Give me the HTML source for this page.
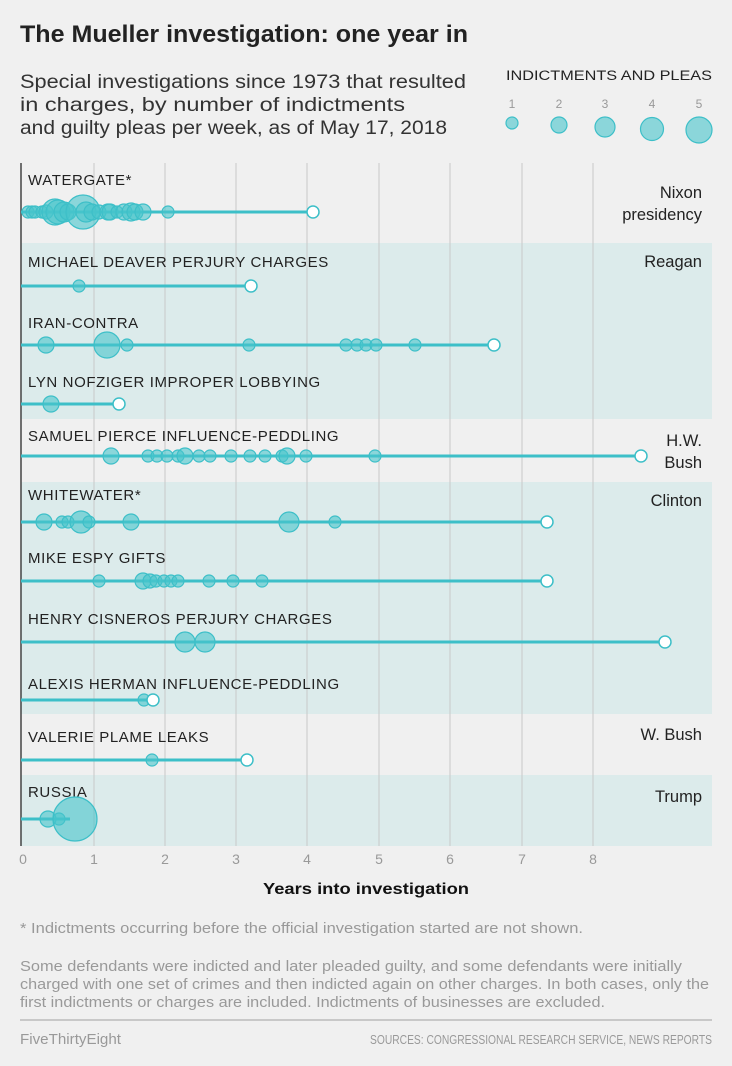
<!DOCTYPE html>
<html><head><meta charset="utf-8"><style>
body{margin:0;background:#f0f0f0;width:732px;height:1061px;overflow:hidden;font-family:"Liberation Sans",sans-serif;}
</style></head><body>
<svg width="732" height="1061" xmlns="http://www.w3.org/2000/svg" font-family="Liberation Sans, sans-serif">
<rect width="732" height="1061" fill="#f0f0f0"/>
<text x="20" y="42" font-size="24" font-weight="bold" fill="#222" textLength="448" lengthAdjust="spacingAndGlyphs">The Mueller investigation: one year in</text>
<text font-size="19" fill="#333"><tspan x="20" y="88" textLength="446" lengthAdjust="spacingAndGlyphs">Special investigations since 1973 that resulted</tspan><tspan x="20" y="111" textLength="385" lengthAdjust="spacingAndGlyphs">in charges, by number of indictments</tspan><tspan x="20" y="134" textLength="427" lengthAdjust="spacingAndGlyphs">and guilty pleas per week, as of May 17, 2018</tspan></text>
<text x="506" y="80" font-size="13.5" fill="#222" textLength="206" lengthAdjust="spacingAndGlyphs">INDICTMENTS AND PLEAS</text>
<g font-size="12" fill="#999" text-anchor="middle"><text x="512" y="108">1</text><text x="559" y="108">2</text><text x="605" y="108">3</text><text x="652" y="108">4</text><text x="699" y="108">5</text></g>
<g fill="rgba(72,196,204,0.6)" stroke="#3dbfc8" stroke-width="1.2">
<circle cx="512" cy="123" r="6"/><circle cx="559" cy="125" r="8"/><circle cx="605" cy="127" r="10"/><circle cx="652" cy="129" r="11.5"/><circle cx="699" cy="130" r="13"/></g>
<g fill="#dcebeb"><rect x="21" y="243" width="691" height="176"/><rect x="21" y="482" width="691" height="232"/><rect x="21" y="775" width="691" height="71"/></g>
<g stroke="#c8c8c8" stroke-width="1">
<line x1="94" y1="163" x2="94" y2="846"/><line x1="165" y1="163" x2="165" y2="846"/><line x1="236" y1="163" x2="236" y2="846"/><line x1="307" y1="163" x2="307" y2="846"/><line x1="379" y1="163" x2="379" y2="846"/><line x1="450" y1="163" x2="450" y2="846"/><line x1="522" y1="163" x2="522" y2="846"/><line x1="593" y1="163" x2="593" y2="846"/></g>
<line x1="21" y1="163" x2="21" y2="846" stroke="#444" stroke-width="1.5"/>
<g font-size="14" fill="#999" text-anchor="middle"><text x="23" y="864">0</text><text x="94" y="864">1</text><text x="165" y="864">2</text><text x="236" y="864">3</text><text x="307" y="864">4</text><text x="379" y="864">5</text><text x="450" y="864">6</text><text x="522" y="864">7</text><text x="593" y="864">8</text></g>
<text x="366" y="894" font-size="16" font-weight="bold" fill="#111" text-anchor="middle" textLength="206" lengthAdjust="spacingAndGlyphs">Years into investigation</text>
<g font-size="15" fill="#222" letter-spacing="0.6">
<text x="28" y="185">WATERGATE*</text><text x="28" y="267">MICHAEL DEAVER PERJURY CHARGES</text><text x="28" y="328">IRAN-CONTRA</text><text x="28" y="387">LYN NOFZIGER IMPROPER LOBBYING</text><text x="28" y="441">SAMUEL PIERCE INFLUENCE-PEDDLING</text><text x="28" y="500">WHITEWATER*</text><text x="28" y="563">MIKE ESPY GIFTS</text><text x="28" y="624">HENRY CISNEROS PERJURY CHARGES</text><text x="28" y="689">ALEXIS HERMAN INFLUENCE-PEDDLING</text><text x="28" y="742">VALERIE PLAME LEAKS</text><text x="28" y="797">RUSSIA</text></g>
<g font-size="16.5" fill="#222" text-anchor="end">
<text x="702" y="198">Nixon</text><text x="702" y="220">presidency</text><text x="702" y="267">Reagan</text><text x="702" y="446">H.W.</text><text x="702" y="468">Bush</text><text x="702" y="506">Clinton</text><text x="702" y="740">W. Bush</text><text x="702" y="802">Trump</text></g>
<g stroke="#3dbfc8" stroke-width="3">
<line x1="21" y1="212" x2="313" y2="212"/><line x1="21" y1="286" x2="251" y2="286"/><line x1="21" y1="345" x2="494" y2="345"/><line x1="21" y1="404" x2="119" y2="404"/><line x1="21" y1="456" x2="641" y2="456"/><line x1="21" y1="522" x2="547" y2="522"/><line x1="21" y1="581" x2="547" y2="581"/><line x1="21" y1="642" x2="665" y2="642"/><line x1="21" y1="700" x2="152" y2="700"/><line x1="21" y1="760" x2="247" y2="760"/><line x1="21" y1="819" x2="70" y2="819"/></g>
<g fill="rgba(72,196,204,0.6)" stroke="#3dbfc8" stroke-width="1.2">
<circle cx="28" cy="212" r="6"/><circle cx="32" cy="212" r="6"/><circle cx="35" cy="212" r="6"/><circle cx="42" cy="212" r="6"/><circle cx="46" cy="212" r="7"/><circle cx="55" cy="212" r="13"/><circle cx="58" cy="212" r="12"/><circle cx="64" cy="212" r="10"/><circle cx="68" cy="212" r="8"/><circle cx="83" cy="212" r="17"/><circle cx="86" cy="212" r="10"/><circle cx="92" cy="212" r="8"/><circle cx="99" cy="212" r="7"/><circle cx="108" cy="212" r="8"/><circle cx="110" cy="212" r="8"/><circle cx="117" cy="212" r="6"/><circle cx="124" cy="212" r="8"/><circle cx="131" cy="212" r="9"/><circle cx="135" cy="212" r="8"/><circle cx="143" cy="212" r="8"/><circle cx="168" cy="212" r="6"/>
<circle cx="79" cy="286" r="6"/>
<circle cx="46" cy="345" r="8"/><circle cx="107" cy="345" r="13"/><circle cx="127" cy="345" r="6"/><circle cx="249" cy="345" r="6"/><circle cx="346" cy="345" r="6"/><circle cx="357" cy="345" r="6"/><circle cx="366" cy="345" r="6"/><circle cx="376" cy="345" r="6"/><circle cx="415" cy="345" r="6"/>
<circle cx="51" cy="404" r="8"/>
<circle cx="111" cy="456" r="8"/><circle cx="148" cy="456" r="6"/><circle cx="157" cy="456" r="6"/><circle cx="167" cy="456" r="6"/><circle cx="178" cy="456" r="6"/><circle cx="185" cy="456" r="8"/><circle cx="199" cy="456" r="6"/><circle cx="210" cy="456" r="6"/><circle cx="231" cy="456" r="6"/><circle cx="250" cy="456" r="6"/><circle cx="265" cy="456" r="6"/><circle cx="282" cy="456" r="6"/><circle cx="287" cy="456" r="8"/><circle cx="306" cy="456" r="6"/><circle cx="375" cy="456" r="6"/>
<circle cx="44" cy="522" r="8"/><circle cx="62" cy="522" r="6"/><circle cx="68" cy="522" r="6"/><circle cx="81" cy="522" r="11"/><circle cx="89" cy="522" r="6"/><circle cx="131" cy="522" r="8"/><circle cx="289" cy="522" r="10"/><circle cx="335" cy="522" r="6"/>
<circle cx="99" cy="581" r="6"/><circle cx="143" cy="581" r="8"/><circle cx="150" cy="581" r="7"/><circle cx="156" cy="581" r="6"/><circle cx="164" cy="581" r="6"/><circle cx="171" cy="581" r="6"/><circle cx="178" cy="581" r="6"/><circle cx="209" cy="581" r="6"/><circle cx="233" cy="581" r="6"/><circle cx="262" cy="581" r="6"/>
<circle cx="185" cy="642" r="10"/><circle cx="205" cy="642" r="10"/>
<circle cx="144" cy="700" r="6"/>
<circle cx="152" cy="760" r="6"/>
<circle cx="48" cy="819" r="8"/><circle cx="59" cy="819" r="6"/><circle cx="75" cy="819" r="22"/>
</g>
<g fill="#fff" stroke="#3dbfc8" stroke-width="1.5">
<circle cx="313" cy="212" r="6"/><circle cx="251" cy="286" r="6"/><circle cx="494" cy="345" r="6"/><circle cx="119" cy="404" r="6"/><circle cx="641" cy="456" r="6"/><circle cx="547" cy="522" r="6"/><circle cx="547" cy="581" r="6"/><circle cx="665" cy="642" r="6"/><circle cx="153" cy="700" r="6"/><circle cx="247" cy="760" r="6"/></g>
<text x="20" y="933" font-size="15" fill="#999" textLength="563" lengthAdjust="spacingAndGlyphs">* Indictments occurring before the official investigation started are not shown.</text>
<text font-size="15" fill="#999"><tspan x="20" y="971" textLength="662" lengthAdjust="spacingAndGlyphs">Some defendants were indicted and later pleaded guilty, and some defendants were initially</tspan><tspan x="20" y="989" textLength="689" lengthAdjust="spacingAndGlyphs">charged with one set of crimes and then indicted again on other charges. In both cases, only the</tspan><tspan x="20" y="1007" textLength="585" lengthAdjust="spacingAndGlyphs">first indictments or charges are included. Indictments of businesses are excluded.</tspan></text>
<line x1="20" y1="1020" x2="712" y2="1020" stroke="#bbb" stroke-width="1.5"/>
<text x="20" y="1044" font-size="14.5" fill="#999" textLength="101" lengthAdjust="spacingAndGlyphs">FiveThirtyEight</text>
<text x="370" y="1044" font-size="13" fill="#999" textLength="342" lengthAdjust="spacingAndGlyphs">SOURCES: CONGRESSIONAL RESEARCH SERVICE, NEWS REPORTS</text>
</svg>
</body></html>
